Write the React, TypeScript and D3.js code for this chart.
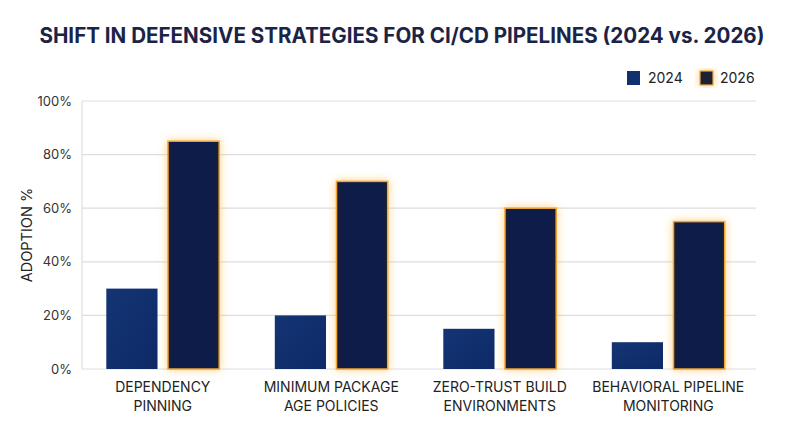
import React from 'react';
import { scaleBand, scaleLinear } from 'd3';

const categories = [
  ['DEPENDENCY', 'PINNING'],
  ['MINIMUM PACKAGE', 'AGE POLICIES'],
  ['ZERO-TRUST BUILD', 'ENVIRONMENTS'],
  ['BEHAVIORAL PIPELINE', 'MONITORING'],
];
const series = ['2024', '2026'];
const values2024 = [30, 20, 15, 10];
const values2026 = [85, 70, 60, 55];
const yTicks = [0, 20, 40, 60, 80, 100];

const W = 800;
const H = 447;
const plot = { left: 82, right: 756, top: 101, bottom: 369 };
const FONT = 'Inter, "Noto Sans", sans-serif';

const App: React.FC = () => {
  const y = scaleLinear().domain([0, 100]).range([plot.bottom, plot.top]);
  const x0 = scaleBand<number>()
    .domain(categories.map((_, i) => i))
    .range([plot.left - 3.5, plot.right - 3.5])
    .paddingInner(0.33)
    .paddingOuter(0.165);
  const x1 = scaleBand<string>().domain(series).range([0, x0.bandwidth()]).paddingInner(0.17);

  return (
    <svg width={W} height={H} style={{ display: 'block', position: 'absolute', left: 0, top: 0, background: '#fff' }}>
      <defs>
        <filter id="glow" x="-40%" y="-20%" width="180%" height="140%">
          <feGaussianBlur in="SourceAlpha" stdDeviation="4" result="blur" />
          <feFlood floodColor="#ffb030" floodOpacity="0.6" />
          <feComposite in2="blur" operator="in" result="glowColor" />
          <feMerge>
            <feMergeNode in="glowColor" />
            <feMergeNode in="SourceGraphic" />
          </feMerge>
        </filter>
        <linearGradient id="g2024" x1="0" x2="1" y1="0" y2="1">
          <stop offset="0%" stopColor="#143474" />
          <stop offset="100%" stopColor="#0d2a66" />
        </linearGradient>
        <linearGradient id="g2026" x1="0" x2="1" y1="0" y2="0">
          <stop offset="0%" stopColor="#1a1e30" />
          <stop offset="12%" stopColor="#0d1f4a" />
          <stop offset="88%" stopColor="#0d1f4a" />
          <stop offset="100%" stopColor="#1a1e30" />
        </linearGradient>
      </defs>

      <text x={W / 2 + 2} y={43} textAnchor="middle" fontFamily={FONT} fontWeight={700}
        fontSize={21} fill="#1b2447" textLength={725} lengthAdjust="spacingAndGlyphs">
        SHIFT IN DEFENSIVE STRATEGIES FOR CI/CD PIPELINES (2024 vs. 2026)
      </text>

      {/* legend */}
      <g fontFamily={FONT} fontSize={14} fill="#222">
        <rect x={627} y={71} width={13} height={14} fill="#12306e" />
        <text x={648} y={83}>2024</text>
        <rect x={700} y={71} width={13} height={14} fill="#1c2035" stroke="#f2a93a" strokeWidth={1.2} filter="url(#glow)" />
        <text x={720} y={83}>2026</text>
      </g>

      {/* grid */}
      {yTicks.map((t) => (
        <g key={t}>
          <line x1={plot.left} x2={plot.right} y1={y(t)} y2={y(t)} stroke="#dedede" strokeWidth={1.2} />
          <text x={plot.left - 10} y={y(t)} dy="0.35em" textAnchor="end" fontFamily={FONT} fontSize={13} fill="#333">
            {t}%
          </text>
        </g>
      ))}
      <line x1={plot.left} x2={plot.left} y1={plot.top} y2={plot.bottom} stroke="#dedede" strokeWidth={1.2} />

      <text transform={`translate(32,${(plot.top + plot.bottom) / 2}) rotate(-90)`} textAnchor="middle"
        fontFamily={FONT} fontSize={14.5} fill="#222">
        ADOPTION %
      </text>

      {/* bars */}
      {categories.map((c, i) => {
        const gx = x0(i) ?? 0;
        const b0 = gx + (x1('2024') ?? 0);
        const b1 = gx + (x1('2026') ?? 0);
        return (
          <g key={i}>
            <rect x={b0} y={y(values2024[i])} width={x1.bandwidth()} height={y(0) - y(values2024[i])} fill="url(#g2024)" />
            <rect x={b1} y={y(values2026[i])} width={x1.bandwidth()} height={y(0) - y(values2026[i])}
              fill="url(#g2026)" stroke="#f0a535" strokeWidth={1.5} filter="url(#glow)" />
            <text x={gx + x0.bandwidth() / 2} y={392} textAnchor="middle" fontFamily={FONT} fontSize={14} fill="#222">
              <tspan x={gx + x0.bandwidth() / 2}>{c[0]}</tspan>
              <tspan x={gx + x0.bandwidth() / 2} dy={19}>{c[1]}</tspan>
            </text>
          </g>
        );
      })}
    </svg>
  );
};

export default App;
